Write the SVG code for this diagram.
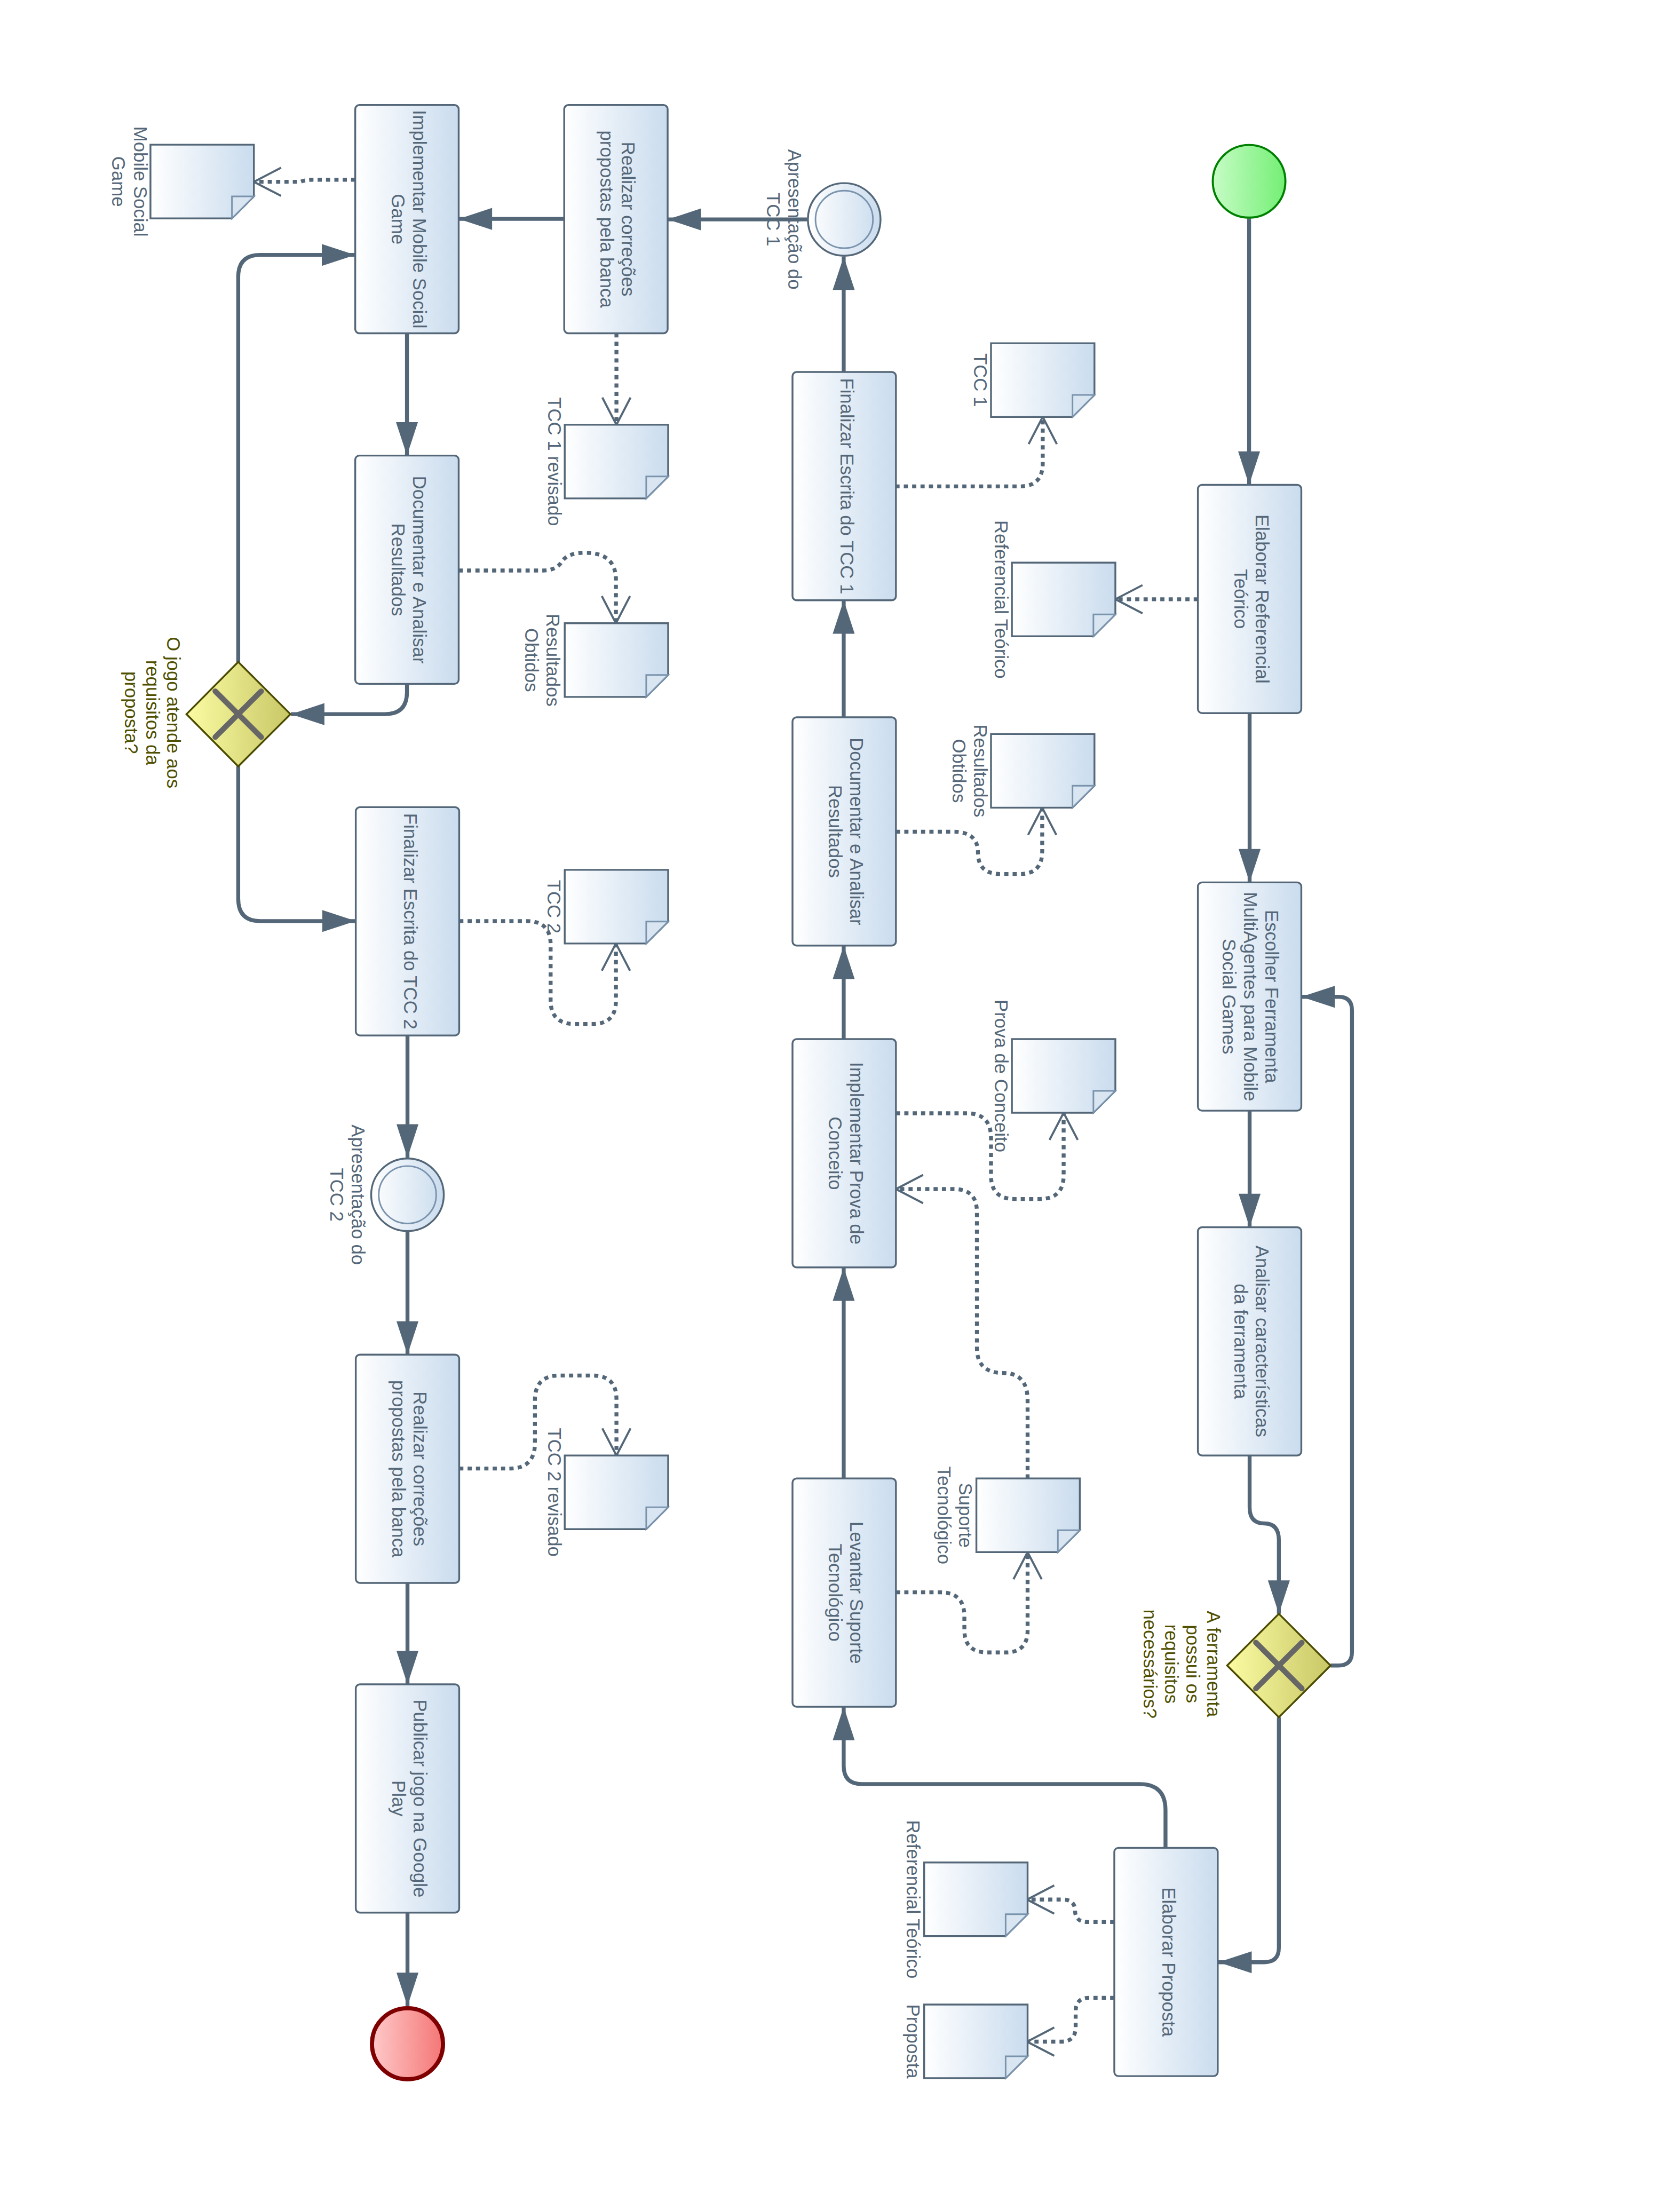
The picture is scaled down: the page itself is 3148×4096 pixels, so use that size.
<svg xmlns="http://www.w3.org/2000/svg" width="3148" height="4096" viewBox="0 0 3148 4096">
<style>
.task{fill:url(#gTask);stroke:#546778;stroke-width:3.5}
.doc{fill:url(#gTask);stroke:#546778;stroke-width:3.5;stroke-linejoin:miter}
.fold{fill:#d9e6f2;stroke:#7a93ad;stroke-width:3}
.t{font-family:"Liberation Sans",Arial,sans-serif;font-size:35.5px;fill:#546778;text-anchor:middle}
.gl{fill:#4f4f00}
.sf{fill:none;stroke:#546778;stroke-width:7.5;marker-end:url(#arr)}
.as{fill:none;stroke:#546778;stroke-width:7.5;stroke-dasharray:8 8;marker-end:url(#open)}
.gw{fill:url(#gGate);stroke:#4a4a00;stroke-width:3.5}
.gx{stroke:#666666;stroke-width:10.5;stroke-linecap:round}
.ev{fill:url(#gTask);stroke:#546778;stroke-width:3.5}
.evin{fill:none;stroke:#7a93ad;stroke-width:3}
</style>
<defs>
<linearGradient id="gTask" x1="0" y1="0" x2="1" y2="0"><stop offset="0" stop-color="#ffffff"/><stop offset="1" stop-color="#cadcee"/></linearGradient>
<linearGradient id="gGate" x1="0" y1="0" x2="1" y2="0"><stop offset="0" stop-color="#fbfba3"/><stop offset="1" stop-color="#c8c867"/></linearGradient>
<linearGradient id="gStart" x1="0" y1="0" x2="1" y2="0"><stop offset="0" stop-color="#c6fcc6"/><stop offset="1" stop-color="#74ef74"/></linearGradient>
<linearGradient id="gEnd" x1="0" y1="0" x2="1" y2="0"><stop offset="0" stop-color="#ffc9c9"/><stop offset="1" stop-color="#f47676"/></linearGradient>
<marker id="arr" markerUnits="userSpaceOnUse" markerWidth="66" markerHeight="44" viewBox="-65 -22 66 44" refX="0" refY="0" orient="auto"><path d="M-64,-21 L0,0 L-64,21 Z" fill="#546778"/></marker>
<marker id="open" markerUnits="userSpaceOnUse" markerWidth="62" markerHeight="66" viewBox="-58 -33 62 66" refX="0" refY="0" orient="auto"><path d="M-52,-27 L0,0 L-52,27" fill="none" stroke="#546778" stroke-width="4"/></marker>
</defs>
<rect x="0" y="0" width="3148" height="4096" fill="#ffffff"/>
<g transform="scale(0.9789)">

<g id="connectors">
<path class="sf" d="M2391,418 V928"/>
<path class="sf" d="M2392,1364 V1689"/>
<path class="sf" d="M2392,2127 V2349"/>
<path class="sf" d="M2392,2786 V2885 Q2392,2916 2420,2916 Q2448,2916 2448,2948 V3089"/>
<path class="sf" d="M2547,3188 H2562 Q2588,3188 2588,3162 V1934 Q2588,1908 2562,1908 H2491"/>
<path class="sf" d="M2448,3287 V3728 Q2448,3756 2420,3756 H2332"/>
<path class="sf" d="M2231,3537 V3465 Q2231,3415 2181,3415 H1650 Q1615,3415 1615,3380 V3267"/>
<path class="sf" d="M1615,2830 V2426"/>
<path class="sf" d="M1615,1989 V1810"/>
<path class="sf" d="M1615,1373 V1149"/>
<path class="sf" d="M1615,712 V491"/>
<path class="sf" d="M1545,420 H1278"/>
<path class="sf" d="M1080,419 H878"/>
<path class="sf" d="M779,638 V872"/>
<path class="sf" d="M779,1310 V1325 Q779,1367 737,1367 H557"/>
<path class="sf" d="M456,1267 V530 Q456,488 498,488 H680"/>
<path class="sf" d="M456,1467 V1720 Q456,1763 498,1763 H681"/>
<path class="sf" d="M780,1982 V2216"/>
<path class="sf" d="M780,2358 V2593"/>
<path class="sf" d="M780,3030 V3224"/>
<path class="sf" d="M780,3661 V3840"/>
<path class="as" d="M2293,1147 H2135"/>
<path class="as" d="M1714,931 H1952 Q1996,931 1996,887 V798"/>
<path class="as" d="M1715,1592 H1825 Q1872,1592 1872,1632 Q1872,1673 1915,1673 H1952 Q1995,1673 1995,1630 V1546"/>
<path class="as" d="M1715,2131 H1850 Q1897,2131 1897,2178 V2250 Q1897,2295 1942,2295 H1990 Q2036,2295 2036,2250 V2130"/>
<path class="as" d="M1715,3048 H1800 Q1846,3048 1846,3094 V3120 Q1846,3163 1890,3163 H1925 Q1967,3163 1967,3121 V2971"/>
<path class="as" d="M1967,2830 V2680 Q1967,2628 1920,2628 Q1870,2628 1870,2580 V2320 Q1870,2276 1826,2276 H1715"/>
<path class="as" d="M2133,3679 H2082 Q2058,3679 2058,3658 Q2058,3636 2034,3636 H1966"/>
<path class="as" d="M2133,3824 H2085 Q2059,3824 2059,3850 V3880 Q2059,3908 2031,3908 H1966"/>
<path class="as" d="M1180,638 V813"/>
<path class="as" d="M680,344 H598 Q585,344 575,348 H486"/>
<path class="as" d="M878,1092 H1040 Q1066,1092 1076,1074 Q1088,1058 1120,1058 Q1179,1058 1179,1110 V1193"/>
<path class="as" d="M879,1763 H1008 Q1054,1763 1054,1808 V1915 Q1054,1960 1100,1960 H1135 Q1179,1960 1179,1915 V1806"/>
<path class="as" d="M879,2811 H975 Q1024,2811 1024,2762 V2680 Q1024,2633 1070,2633 H1135 Q1180,2633 1180,2678 V2786"/>
</g>

<g id="start"><circle cx="2391" cy="347" r="69.5" fill="url(#gStart)" stroke="#008000" stroke-width="4"/></g>
<g id="end"><circle cx="780" cy="3912" r="68" fill="url(#gEnd)" stroke="#7f0000" stroke-width="8"/></g>

<g id="evTCC1"><circle class="ev" cx="1616" cy="420" r="69.5"/><circle class="evin" cx="1616" cy="420" r="55"/>
<text class="t" transform="translate(1509,420) rotate(90)"><tspan x="0" y="0">Apresentação do</tspan><tspan x="0" dy="41">TCC 1</tspan></text></g>
<g id="evTCC2"><circle class="ev" cx="780" cy="2287" r="69.5"/><circle class="evin" cx="780" cy="2287" r="55"/>
<text class="t" transform="translate(673,2287) rotate(90)"><tspan x="0" y="0">Apresentação do</tspan><tspan x="0" dy="41">TCC 2</tspan></text></g>

<g id="gwR"><polygon class="gw" points="2349,3188 2448,3089 2547,3188 2448,3287"/>
<line class="gx" x1="2404" y1="3144" x2="2492" y2="3232"/><line class="gx" x1="2492" y1="3144" x2="2404" y2="3232"/>
<text class="t gl" transform="translate(2311,3185) rotate(90)"><tspan x="0" y="0">A ferramenta</tspan><tspan x="0" dy="40.5">possui os</tspan><tspan x="0" dy="40.5">requisitos</tspan><tspan x="0" dy="40.5">necessários?</tspan></text></g>
<g id="gwL"><polygon class="gw" points="357,1367 456,1267 556,1367 456,1467"/>
<line class="gx" x1="412" y1="1323" x2="500" y2="1411"/><line class="gx" x1="500" y1="1323" x2="412" y2="1411"/>
<text class="t gl" transform="translate(320,1364) rotate(90)"><tspan x="0" y="0">O jogo atende aos</tspan><tspan x="0" dy="40.5">requisitos da</tspan><tspan x="0" dy="40.5">proposta?</tspan></text></g>

<g id="t1"><rect class="task" x="2293" y="928" width="198" height="437" rx="8"/>
<text class="t" transform="translate(2403.5,1146.5) rotate(90)"><tspan x="0" y="0">Elaborar Referencial</tspan><tspan x="0" dy="41">Teórico</tspan></text></g>
<g id="t2"><rect class="task" x="2293" y="1689" width="198" height="437" rx="8"/>
<text class="t" transform="translate(2422,1907.5) rotate(90)"><tspan x="0" y="0">Escolher Ferramenta</tspan><tspan x="0" dy="41">MultiAgentes para Mobile</tspan><tspan x="0" dy="41">Social Games</tspan></text></g>
<g id="t3"><rect class="task" x="2293" y="2349" width="198" height="437" rx="8"/>
<text class="t" transform="translate(2403.5,2567.5) rotate(90)"><tspan x="0" y="0">Analisar características</tspan><tspan x="0" dy="41">da ferramenta</tspan></text></g>
<g id="t4"><rect class="task" x="2133" y="3537" width="198" height="437" rx="8"/>
<text class="t" transform="translate(2225,3755.5) rotate(90)"><tspan x="0" y="0">Elaborar Proposta</tspan></text></g>
<g id="t5"><rect class="task" x="1517" y="2830" width="198" height="437" rx="8"/>
<text class="t" transform="translate(1627.5,3048.5) rotate(90)"><tspan x="0" y="0">Levantar Suporte</tspan><tspan x="0" dy="41">Tecnológico</tspan></text></g>
<g id="t6"><rect class="task" x="1517" y="1989" width="198" height="437" rx="8"/>
<text class="t" transform="translate(1627.5,2207.5) rotate(90)"><tspan x="0" y="0">Implementar Prova de</tspan><tspan x="0" dy="41">Conceito</tspan></text></g>
<g id="t7"><rect class="task" x="1517" y="1373" width="198" height="437" rx="8"/>
<text class="t" transform="translate(1627.5,1591.5) rotate(90)"><tspan x="0" y="0">Documentar e Analisar</tspan><tspan x="0" dy="41">Resultados</tspan></text></g>
<g id="t8"><rect class="task" x="1517" y="712" width="198" height="437" rx="8"/>
<text class="t" transform="translate(1609,930.5) rotate(90)"><tspan x="0" y="0">Finalizar Escrita do TCC 1</tspan></text></g>
<g id="t9"><rect class="task" x="1080" y="201" width="198" height="437" rx="8"/>
<text class="t" transform="translate(1190.5,419.5) rotate(90)"><tspan x="0" y="0">Realizar correções</tspan><tspan x="0" dy="41">propostas pela banca</tspan></text></g>
<g id="t10"><rect class="task" x="680" y="201" width="198" height="437" rx="8"/>
<text class="t" transform="translate(790.5,419.5) rotate(90)"><tspan x="0" y="0">Implementar Mobile Social</tspan><tspan x="0" dy="41">Game</tspan></text></g>
<g id="t11"><rect class="task" x="680" y="872" width="198" height="437" rx="8"/>
<text class="t" transform="translate(790.5,1090.5) rotate(90)"><tspan x="0" y="0">Documentar e Analisar</tspan><tspan x="0" dy="41">Resultados</tspan></text></g>
<g id="t12"><rect class="task" x="681" y="1545" width="198" height="437" rx="8"/>
<text class="t" transform="translate(773,1763.5) rotate(90)"><tspan x="0" y="0">Finalizar Escrita do TCC 2</tspan></text></g>
<g id="t13"><rect class="task" x="681" y="2593" width="198" height="437" rx="8"/>
<text class="t" transform="translate(791.5,2811.5) rotate(90)"><tspan x="0" y="0">Realizar correções</tspan><tspan x="0" dy="41">propostas pela banca</tspan></text></g>
<g id="t14"><rect class="task" x="681" y="3224" width="198" height="437" rx="8"/>
<text class="t" transform="translate(791.5,3442.5) rotate(90)"><tspan x="0" y="0">Publicar jogo na Google</tspan><tspan x="0" dy="41">Play</tspan></text></g>

<g id="d1"><path class="doc" d="M1937,1077 h198 v99 l-42,42 h-156 z"/><path class="fold" d="M2093,1218 v-42 h42 z"/>
<text class="t" transform="translate(1904,1147.5) rotate(90)">Referencial Teórico</text></g>
<g id="d2"><path class="doc" d="M1897,657 h198 v99 l-42,42 h-156 z"/><path class="fold" d="M2053,798 v-42 h42 z"/>
<text class="t" transform="translate(1864,727.5) rotate(90)">TCC 1</text></g>
<g id="d3"><path class="doc" d="M1897,1405 h198 v99 l-42,42 h-156 z"/><path class="fold" d="M2053,1546 v-42 h42 z"/>
<text class="t" transform="translate(1864,1475.5) rotate(90)"><tspan x="0" y="0">Resultados</tspan><tspan x="0" dy="41">Obtidos</tspan></text></g>
<g id="d4"><path class="doc" d="M1937,1989 h198 v99 l-42,42 h-156 z"/><path class="fold" d="M2093,2130 v-42 h42 z"/>
<text class="t" transform="translate(1904,2059.5) rotate(90)">Prova de Conceito</text></g>
<g id="d5"><path class="doc" d="M1869,2830 h198 v99 l-42,42 h-156 z"/><path class="fold" d="M2025,2971 v-42 h42 z"/>
<text class="t" transform="translate(1836,2900.5) rotate(90)"><tspan x="0" y="0">Suporte</tspan><tspan x="0" dy="41">Tecnológico</tspan></text></g>
<g id="d6"><path class="doc" d="M1769,3565 h198 v99 l-42,42 h-156 z"/><path class="fold" d="M1925,3706 v-42 h42 z"/>
<text class="t" transform="translate(1736,3635.5) rotate(90)">Referencial Teórico</text></g>
<g id="d7"><path class="doc" d="M1769,3837 h198 v99 l-42,42 h-156 z"/><path class="fold" d="M1925,3978 v-42 h42 z"/>
<text class="t" transform="translate(1736,3907.5) rotate(90)">Proposta</text></g>
<g id="d8"><path class="doc" d="M288,277 h198 v99 l-42,42 h-156 z"/><path class="fold" d="M444,418 v-42 h42 z"/>
<text class="t" transform="translate(256,347.5) rotate(90)"><tspan x="0" y="0">Mobile Social</tspan><tspan x="0" dy="41">Game</tspan></text></g>
<g id="d9"><path class="doc" d="M1081,813 h198 v99 l-42,42 h-156 z"/><path class="fold" d="M1237,954 v-42 h42 z"/>
<text class="t" transform="translate(1049,883.5) rotate(90)">TCC 1 revisado</text></g>
<g id="d10"><path class="doc" d="M1081,1193 h198 v99 l-42,42 h-156 z"/><path class="fold" d="M1237,1334 v-42 h42 z"/>
<text class="t" transform="translate(1046,1263.5) rotate(90)"><tspan x="0" y="0">Resultados</tspan><tspan x="0" dy="41">Obtidos</tspan></text></g>
<g id="d11"><path class="doc" d="M1081,1665 h198 v99 l-42,42 h-156 z"/><path class="fold" d="M1237,1806 v-42 h42 z"/>
<text class="t" transform="translate(1048,1735.5) rotate(90)">TCC 2</text></g>
<g id="d12"><path class="doc" d="M1081,2786 h198 v99 l-42,42 h-156 z"/><path class="fold" d="M1237,2927 v-42 h42 z"/>
<text class="t" transform="translate(1049,2856.5) rotate(90)">TCC 2 revisado</text></g>
</g>
</svg>
